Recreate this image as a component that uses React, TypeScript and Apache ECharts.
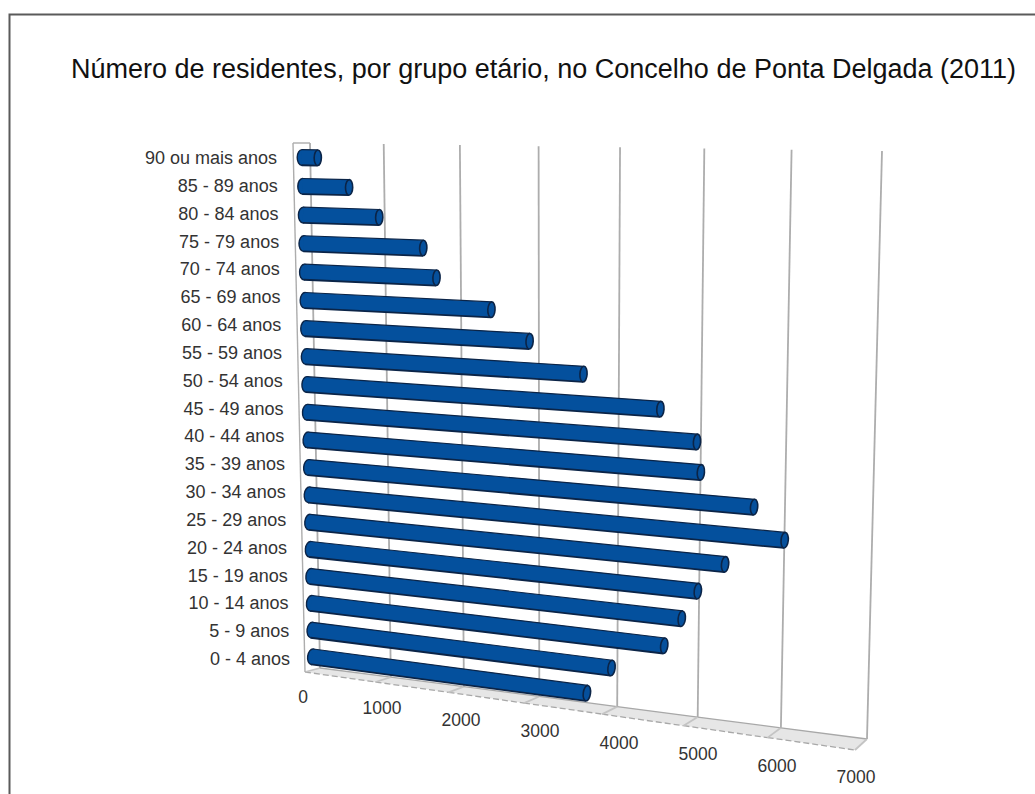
import React, { useEffect, useRef } from "react";
import * as echarts from "echarts";

const titleText = "Número de residentes, por grupo etário, no Concelho de Ponta Delgada (2011)";
const categories = [
  "0 - 4 anos", "5 - 9 anos", "10 - 14 anos", "15 - 19 anos", "20 - 24 anos",
  "25 - 29 anos", "30 - 34 anos", "35 - 39 anos", "40 - 44 anos", "45 - 49 anos",
  "50 - 54 anos", "55 - 59 anos", "60 - 64 anos", "65 - 69 anos", "70 - 74 anos",
  "75 - 79 anos", "80 - 84 anos", "85 - 89 anos", "90 ou mais anos",
];
const residents = [
  3710, 4020, 4670, 4880, 5070, 5390, 6080, 5720, 5090, 5040,
  4600, 3660, 2985, 2500, 1790, 1620, 1040, 640, 220,
];
const xTicks = [0, 1000, 2000, 3000, 4000, 5000, 6000, 7000];

type Pt = [number, number];
// plane corners: bottom-left, bottom-right, top-right, top-left
function homography(c: Pt[]) {
  const [[x0, y0], [x1, y1], [x2, y2], [x3, y3]] = c;
  const dx1 = x1 - x2, dx2 = x3 - x2, sx = x0 - x1 + x2 - x3;
  const dy1 = y1 - y2, dy2 = y3 - y2, sy = y0 - y1 + y2 - y3;
  const den = dx1 * dy2 - dx2 * dy1;
  const g = (sx * dy2 - dx2 * sy) / den;
  const h = (dx1 * sy - sx * dy1) / den;
  const a = x1 - x0 + g * x1, b = x3 - x0 + h * x3;
  const d = y1 - y0 + g * y1, e = y3 - y0 + h * y3;
  return (u: number, t: number): Pt => {
    const w = g * u + h * t + 1;
    return [(a * u + b * t + x0) / w, (d * u + e * t + y0) / w];
  };
}
const backCorners: Pt[] = [[320, 668], [867, 739], [882, 151], [310, 143]];
const frontCorners: Pt[] = [[305, 672], [855, 750], [870, 151], [293, 143]];
const midCorners: Pt[] = backCorners.map((p, i) => [(p[0] + frontCorners[i][0]) / 2, (p[1] + frontCorners[i][1]) / 2]);
const back = homography(backCorners);
const front = homography(frontCorners);
const mid = homography(midCorners);

const GRID = "#adadad";

function norm(params: any, api: any, v: number, cat: number) {
  const p = api.coord([v, cat]);
  const s = params.coordSys;
  return { u: (p[0] - s.x) / s.width, t: (s.y + s.height - p[1]) / s.height, s };
}
const line = (a: Pt, b: Pt, extra: any = {}) => ({
  type: "line",
  shape: { x1: a[0], y1: a[1], x2: b[0], y2: b[1] },
  style: { stroke: GRID, lineWidth: 1.8, ...extra },
});

function renderFrame(params: any, api: any) {
  const v = api.value(0);
  const { u } = norm(params, api, v, 0);
  const children: any[] = [];
  if (params.dataIndex < xTicks.length - 1) {
    const u2 = norm(params, api, xTicks[params.dataIndex + 1], 0).u;
    const a = back(u, 0), b = back(u2, 0), c = front(u2, 0), d = front(u, 0);
    children.push({ type: "polygon", shape: { points: [a, b, c, d] }, style: { fill: "#e6e6e6" } });
    children.push(line(a, b, { stroke: "#a8a8a8", lineWidth: 1.3 }));
    children.push(line(d, c, { stroke: "#a8a8a8", lineWidth: 1.3, lineDash: [6, 3] }));
  }
  children.push(line(back(u, 0), front(u, 0), { stroke: "#c4c4c4" }));
  children.push(line(back(u, 0), back(u, 1)));
  if (params.dataIndex === 0) {
    children.push(line(front(0, 0), front(0, 1), { lineWidth: 1.4 }));
    children.push(line(front(0, 1), back(0, 1), { lineWidth: 1.4 }));
  }
  return { type: "group", children };
}

function renderBar(params: any, api: any) {
  const v = api.value(0);
  const cat = api.value(1);
  const { u, s } = norm(params, api, v, cat);
  const t = (s.y + s.height - api.coord([0, cat])[1]) / s.height;
  const S = mid(0, t), E = mid(u, t);
  const ang = Math.atan2(E[1] - S[1], E[0] - S[0]);
  const r = 7.8;
  const nx = -Math.sin(ang) * r, ny = Math.cos(ang) * r;
  const dark = "#0b2447";
  const fill = "#04509d";
  const ell = (P: Pt, rx: number, style: any) => ({
    type: "ellipse",
    x: P[0], y: P[1], rotation: -ang,
    shape: { cx: 0, cy: 0, rx, ry: r },
    style,
  });
  return {
    type: "group",
    children: [
      ell(S, 4.6, { fill, stroke: dark, lineWidth: 1.4 }),
      {
        type: "polygon",
        shape: { points: [[S[0] + nx, S[1] + ny], [E[0] + nx, E[1] + ny], [E[0] - nx, E[1] - ny], [S[0] - nx, S[1] - ny]] },
        style: { fill },
      },
      line([S[0] + nx, S[1] + ny], [E[0] + nx, E[1] + ny], { stroke: dark, lineWidth: 1.8 }),
      line([S[0] - nx, S[1] - ny], [E[0] - nx, E[1] - ny], { stroke: dark, lineWidth: 1.2 }),
      ell(E, 3.6, { fill: "#06509c", stroke: dark, lineWidth: 1.6 }),
    ],
  };
}

const FONT = "'Liberation Sans', Arial, sans-serif";
function renderCatLabel(params: any, api: any) {
  const cat = api.value(1);
  const { t } = norm(params, api, 0, cat);
  const k = (t - 1 / 38) / (1 - 2 / 38); // 0 at bottom label, 1 at top label
  return {
    type: "text",
    style: {
      text: categories[cat], x: 290 - 13 * k, y: 659 - 501 * k,
      align: "right", verticalAlign: "middle",
      fontSize: 18, fontFamily: FONT, fill: "#333",
    },
  };
}
function renderTickLabel(params: any, api: any) {
  const v = api.value(0);
  const { u } = norm(params, api, v, 0);
  return {
    type: "text",
    style: {
      text: String(v), x: 303 + 553 * u, y: 697 + 80 * u,
      align: "center", verticalAlign: "middle",
      fontSize: 17.5, fontFamily: FONT, fill: "#333",
    },
  };
}

export default function App() {
  const ref = useRef<HTMLDivElement>(null);
  useEffect(() => {
    document.body.style.margin = "0";
    const chart = echarts.init(ref.current!, undefined, { renderer: "svg" });
    const common = { type: "custom", coordinateSystem: "cartesian2d", clip: false, silent: true };
    chart.setOption({
      animation: false,
      backgroundColor: "#ffffff",
      title: {
        text: titleText, left: 66, top: 50,
        textStyle: { fontSize: 27, fontWeight: "normal", fontFamily: FONT, color: "#111" },
      },
      grid: { left: 100, right: 100, top: 100, bottom: 100 },
      xAxis: { type: "value", min: 0, max: 7000, interval: 1000, show: false },
      yAxis: { type: "category", data: categories, show: false },
      graphic: [{
        type: "rect", z: 0, silent: true,
        shape: { x: 9.5, y: 14.5, width: 1040, height: 800 },
        style: { fill: "none", stroke: "#5a5a5a", lineWidth: 2 },
      }],
      series: [
        { ...common, z: 1, renderItem: renderFrame, data: xTicks.map((v) => [v, 0]), encode: { x: 0, y: 1 } },
        { ...common, z: 2, renderItem: renderBar, data: residents.map((v, i) => [v, i]), encode: { x: 0, y: 1 } },
        { ...common, z: 3, renderItem: renderCatLabel, data: categories.map((_, i) => [0, i]), encode: { x: 0, y: 1 } },
        { ...common, z: 3, renderItem: renderTickLabel, data: xTicks.map((v) => [v, 0]), encode: { x: 0, y: 1 } },
      ],
    });
    return () => chart.dispose();
  }, []);
  return <div ref={ref} style={{ position: "fixed", left: 0, top: 0, width: 1035, height: 794 }} />;
}
